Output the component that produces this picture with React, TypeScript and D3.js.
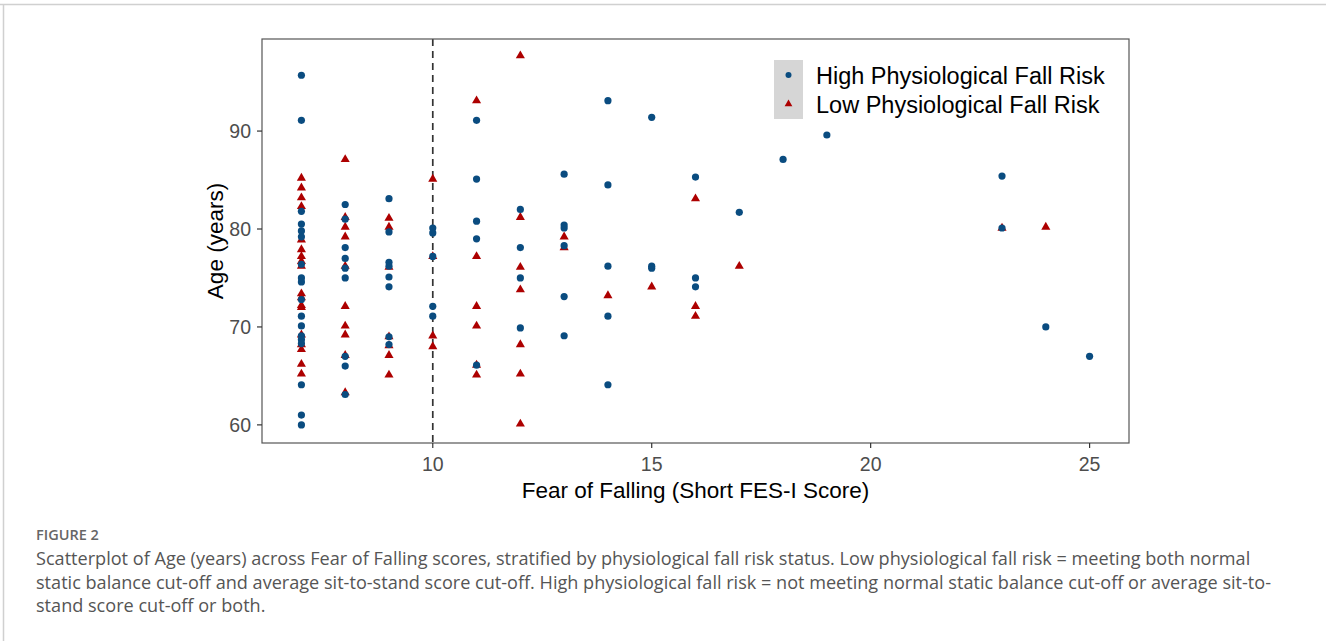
import React from "react";
import * as d3 from "d3";

const highX = [
  7, 7, 7, 7, 7, 7, 7, 7, 7, 7, 7, 7, 7, 7, 7, 7, 7, 7,
  8, 8, 8, 8, 8, 8, 8, 8, 8,
  9, 9, 9, 9, 9, 9, 9, 9,
  10, 10, 10, 10, 10,
  11, 11, 11, 11, 11,
  12, 12, 12, 12,
  13, 13, 13, 13, 13, 13,
  14, 14, 14, 14, 14,
  15, 15, 15,
  16, 16, 16,
  17, 18, 19, 23, 23, 24, 25,
];
const highY = [
  95.7, 91.1, 81.8, 80.5, 79.8, 79.2, 76.4, 75.0, 74.6, 72.8, 71.1, 70.1, 69.1, 68.7, 68.3, 64.1, 61.0, 60.0,
  82.5, 81.0, 78.1, 77.0, 76.0, 75.0, 67.0, 66.0, 63.1,
  83.1, 79.7, 76.6, 76.2, 75.1, 74.1, 69.0, 68.2,
  80.1, 79.6, 77.2, 72.1, 71.1,
  91.1, 85.1, 80.8, 79.0, 66.1,
  82.0, 78.1, 75.0, 69.9,
  85.6, 80.4, 80.1, 78.3, 73.1, 69.1,
  93.1, 84.5, 76.2, 71.1, 64.1,
  91.4, 76.2, 76.0,
  85.3, 75.0, 74.1,
  81.7, 87.1, 89.6, 85.4, 80.1, 70.0, 67.0,
];

const lowX = [
  7, 7, 7, 7, 7, 7, 7, 7, 7, 7, 7, 7, 7, 7, 7, 7, 7, 7,
  8, 8, 8, 8, 8, 8, 8, 8, 8, 8,
  9, 9, 9, 9, 9, 9, 9,
  10, 10, 10, 10,
  11, 11, 11, 11, 11, 11,
  12, 12, 12, 12, 12, 12, 12,
  13, 13,
  14, 15,
  16, 16, 16,
  17, 23, 24,
];
const lowY = [
  85.2, 84.2, 83.2, 82.3, 78.9, 77.9, 77.2, 76.7, 76.2, 73.4, 73.0, 72.2, 72.0, 69.2, 68.2, 67.7, 66.2, 65.2,
  87.1, 81.2, 80.2, 79.2, 76.2, 72.1, 70.1, 69.2, 67.1, 63.3,
  81.1, 80.2, 76.1, 69.0, 68.1, 67.1, 65.1,
  85.1, 77.2, 69.1, 68.0,
  93.1, 77.2, 72.1, 70.1, 66.1, 65.1,
  97.7, 81.2, 76.1, 73.8, 68.2, 65.2, 60.1,
  79.2, 78.1,
  73.2, 74.1,
  83.1, 72.1, 71.1,
  76.2, 80.1, 80.2,
];

const xTicks = [10, 15, 20, 25];
const yTicks = [60, 70, 80, 90];
const cutoff = 10;
const legendLabels = ["High Physiological Fall Risk", "Low Physiological Fall Risk"];
const xTitle = "Fear of Falling (Short FES-I Score)";
const yTitle = "Age (years)";
const figLabel = "FIGURE 2";
const captionLines = [
  "Scatterplot of Age (years) across Fear of Falling scores, stratified by physiological fall risk status. Low physiological fall risk = meeting both normal",
  "static balance cut-off and average sit-to-stand score cut-off. High physiological fall risk = not meeting normal static balance cut-off or average sit-to-",
  "stand score cut-off or both.",
];

const BLUE = "#0a4c80";
const RED = "#ad0000";

export default function App() {
  const left = 262, right = 1129, top = 39, bottom = 443;
  const x = d3.scaleLinear().domain([6.1, 25.9]).range([left, right]);
  const y = d3.scaleLinear().domain([58.15, 99.4]).range([bottom, top]);
  const tri = d3.symbol().type(d3.symbolTriangle).size(36)() as string;
  const triSmall = d3.symbol().type(d3.symbolTriangle).size(26)() as string;
  const axisFont = "'Liberation Sans', Arial, sans-serif";

  return (
    <svg
      width={1326}
      height={641}
      style={{ position: "absolute", left: 0, top: 0, background: "#fff" }}
    >
      {/* frame */}
      <line x1={0} x2={1326} y1={4.5} y2={4.5} stroke="#d0d0d0" strokeWidth={1.5} />
      <line x1={3.5} x2={3.5} y1={4} y2={641} stroke="#d0d0d0" strokeWidth={1.5} />

      {/* dashed cutoff */}
      <line
        x1={x(cutoff)}
        x2={x(cutoff)}
        y1={top}
        y2={bottom}
        stroke="#333"
        strokeWidth={1.7}
        strokeDasharray="7,5"
      />

      {/* points */}
      {lowX.map((v, i) => (
        <path key={"l" + i} d={tri} transform={`translate(${x(v)},${y(lowY[i])})`} fill={RED} />
      ))}
      {highX.map((v, i) => (
        <circle key={"h" + i} cx={x(v)} cy={y(highY[i])} r={3.6} fill={BLUE} />
      ))}

      {/* panel border */}
      <rect x={left} y={top} width={right - left} height={bottom - top} fill="none" stroke="#555" strokeWidth={1.2} />

      {/* x axis */}
      {xTicks.map((t) => (
        <g key={"xt" + t}>
          <line x1={x(t)} x2={x(t)} y1={bottom} y2={bottom + 5} stroke="#333" strokeWidth={1.2} />
          <text x={x(t)} y={471} textAnchor="middle" fontSize={19.5} fill="#4d4d4d" fontFamily={axisFont}>
            {t}
          </text>
        </g>
      ))}
      {yTicks.map((t) => (
        <g key={"yt" + t}>
          <line x1={left - 5} x2={left} y1={y(t)} y2={y(t)} stroke="#333" strokeWidth={1.2} />
          <text x={251} y={y(t) + 7} textAnchor="end" fontSize={19.5} fill="#4d4d4d" fontFamily={axisFont}>
            {t}
          </text>
        </g>
      ))}
      <text x={(left + right) / 2} y={498} textAnchor="middle" fontSize={22.5} fill="#000" fontFamily={axisFont}>
        {xTitle}
      </text>
      <text
        transform={`translate(223,${(top + bottom) / 2}) rotate(-90)`}
        textAnchor="middle"
        fontSize={22.5}
        fill="#000"
        fontFamily={axisFont}
      >
        {yTitle}
      </text>

      {/* legend */}
      <rect x={774} y={60} width={29} height={59} fill="#d6d6d6" />
      <circle cx={788.5} cy={75} r={3} fill={BLUE} />
      <path d={triSmall} transform={`translate(788.5,104)`} fill={RED} />
      {legendLabels.map((l, i) => (
        <text key={l} x={816} y={83.5 + i * 29} fontSize={23.5} fill="#000" fontFamily={axisFont}>
          {l}
        </text>
      ))}

      {/* caption */}
      <text x={36} y={540} fontSize={14.5} fontWeight={600} fill="#666" fontFamily="'Open Sans', sans-serif">
        {figLabel}
      </text>
      {captionLines.map((c, i) => (
        <text key={i} x={36} y={565 + i * 23.5} fontSize={18.1} fill="#555" fontFamily="'Open Sans', sans-serif">
          {c}
        </text>
      ))}
    </svg>
  );
}
